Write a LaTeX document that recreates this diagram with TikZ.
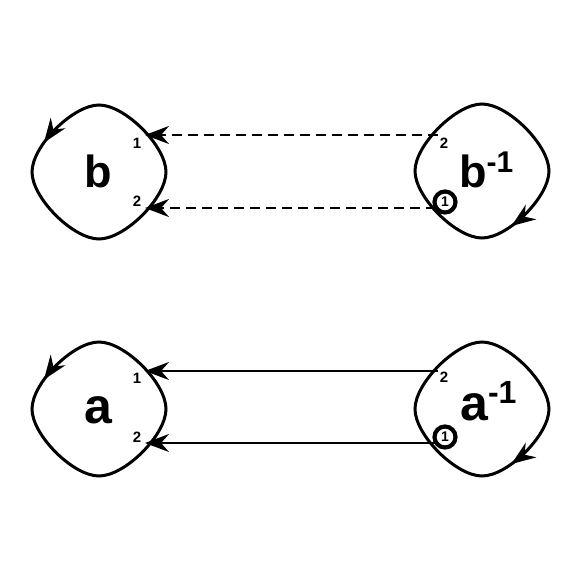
\documentclass[tikz,border=0pt]{standalone}
\usepackage{fontspec}
\setmainfont{Liberation Sans}
\usetikzlibrary{arrows.meta,decorations.markings}
\newcommand\ccwpath{(0,-67) .. controls (-26,-67) and (-67,-26) .. (-67,0) .. controls (-67,26) and (-26,67) .. (0,67) .. controls (26,67) and (67,26) .. (67,0) .. controls (67,-26) and (26,-67) .. (0,-67) -- cycle}
\newcommand\cwpath{(67,0) .. controls (67,26) and (26,67) .. (0,67) .. controls (-26,67) and (-67,26) .. (-67,0) .. controls (-67,-26) and (-26,-67) .. (0,-67) .. controls (26,-67) and (67,-26) .. (67,0) -- cycle}
\tikzset{
  tipA/.tip={Stealth[length=24pt,width=18pt,inset=8pt]},
  blob/.style={line width=3pt, postaction={decorate, decoration={markings, mark=at position 0.17 with {\arrow{tipA}}}}},
  conn/.style={line width=2.6pt, -tipA},
  dconn/.style={conn, dash pattern=on 10pt off 6pt},
  big/.style={inner sep=0pt, font=\fontsize{45}{45}\selectfont\bfseries},
  bigger/.style={inner sep=0pt, font=\fontsize{50}{50}\selectfont\bfseries},
  port/.style={inner sep=0pt, font=\fontsize{15}{15}\selectfont\bfseries},
  ring/.style={circle, draw, line width=4.2pt, minimum size=21pt, inner sep=0pt, font=\fontsize{14}{14}\selectfont\bfseries}
}
\begin{document}
\begin{tikzpicture}[x=1pt,y=-1pt]
\useasboundingbox[fill=white] (0,0) rectangle (581,581);
% b row
\draw[blob, shift={(99,172)}] \ccwpath;
\draw[blob, shift={(482,171)}] \cwpath;
\node[big, anchor=base] (bL) at (98.5,187) {b};
\node[big, anchor=base west] (bR) at (459,187) {b\raisebox{15pt}{\fontsize{30}{30}\selectfont\bfseries -1}};
\node[port] (bL1t) at (137,143.5) {1};
\node[port] (bL2t) at (137,201) {2};
\node[port] (bR2t) at (444,143) {2};
\node[ring] (bR1) at (445,202) {1};
\coordinate (bL1) at (145,135);
\coordinate (bL2) at (145,208);
\coordinate (bR2) at (438,135);
\coordinate (bR1e) at (436,208);
\draw[dconn] (bR2) -- (bL1);
\draw[dconn] (bR1e) -- (bL2);
% a row
\draw[blob, shift={(99,409)}] \ccwpath;
\draw[blob, shift={(482,409)}] \cwpath;
\node[bigger, anchor=base] (aL) at (98.5,423) {a};
\node[bigger, anchor=base west] (aR) at (460,420) {a\raisebox{17pt}{\fontsize{32}{32}\selectfont\bfseries -1}};
\node[port] (aL1t) at (137,378) {1};
\node[port] (aL2t) at (137,437) {2};
\node[port] (aR2t) at (444,377) {2};
\node[ring] (aR1) at (445,437) {1};
\coordinate (aL1) at (145,371);
\coordinate (aL2) at (145,443);
\coordinate (aR2) at (438,371);
\coordinate (aR1e) at (436,443);
\draw[conn] (aR2) -- (aL1);
\draw[conn] (aR1e) -- (aL2);
\end{tikzpicture}
\end{document}
